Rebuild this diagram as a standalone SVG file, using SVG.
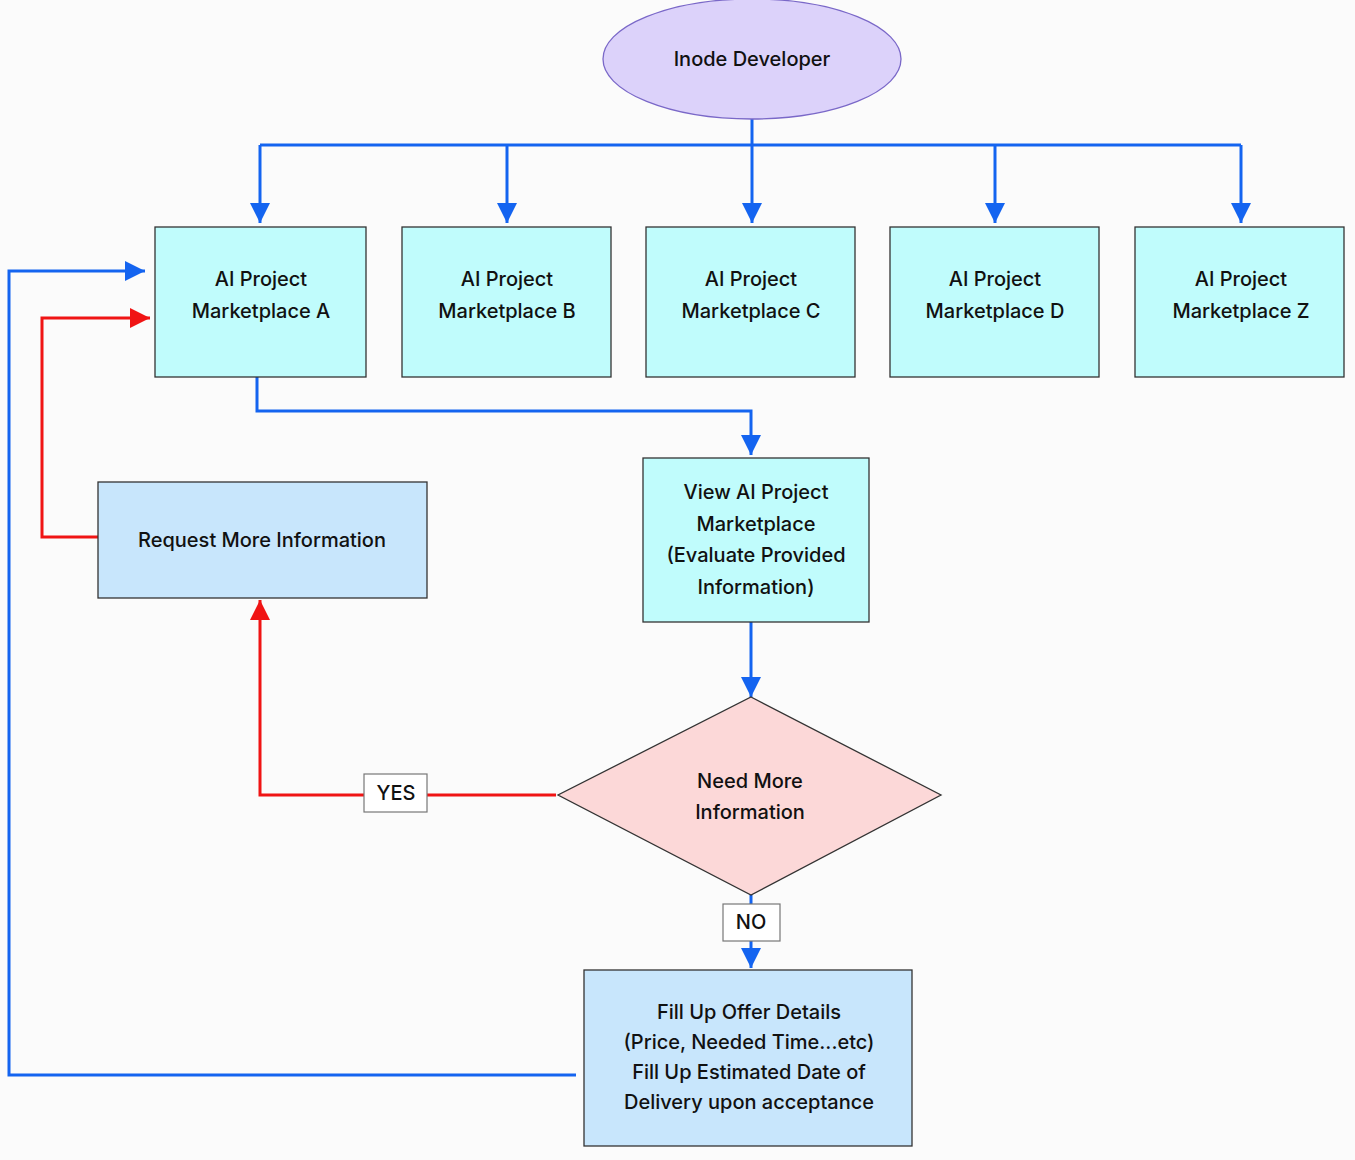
<svg xmlns="http://www.w3.org/2000/svg" width="1355" height="1160" viewBox="0 0 1355 1160">
<style>
  .t { font-family: Inter, "Liberation Sans", Arial, sans-serif; font-size: 20px; font-weight: 500; fill: #111; text-anchor: middle; }
  .box { fill: #c0fcfc; stroke: #333; stroke-width: 1.3; }
  .lbox { fill: #c8e6fc; stroke: #333; stroke-width: 1.3; }
  .tag { fill: #ffffff; stroke: #777; stroke-width: 1.2; }
  .blue { fill: none; stroke: #1464f0; stroke-width: 3; }
  .red { fill: none; stroke: #f01414; stroke-width: 3; }
</style>
<defs>
  <marker id="ab" markerUnits="userSpaceOnUse" markerWidth="20" markerHeight="20" refX="20" refY="10" orient="auto" viewBox="0 0 20 20">
    <polygon points="0,0 20,10 0,20" fill="#1464f0"/>
  </marker>
  <marker id="ar" markerUnits="userSpaceOnUse" markerWidth="20" markerHeight="20" refX="20" refY="10" orient="auto" viewBox="0 0 20 20">
    <polygon points="0,0 20,10 0,20" fill="#f01414"/>
  </marker>
</defs>
<rect width="1355" height="1160" fill="#fbfbfb"/>

<g id="connectors">
  <line class="blue" x1="752" y1="119" x2="752" y2="145"/>
  <line class="blue" x1="260" y1="145" x2="1241" y2="145"/>
  <line class="blue" x1="260" y1="145" x2="260" y2="223" marker-end="url(#ab)"/>
  <line class="blue" x1="507" y1="145" x2="507" y2="223" marker-end="url(#ab)"/>
  <line class="blue" x1="752" y1="145" x2="752" y2="223" marker-end="url(#ab)"/>
  <line class="blue" x1="995" y1="145" x2="995" y2="223" marker-end="url(#ab)"/>
  <line class="blue" x1="1241" y1="145" x2="1241" y2="223" marker-end="url(#ab)"/>
  <polyline class="blue" points="257,377 257,411 751,411 751,455" marker-end="url(#ab)"/>
  <line class="blue" x1="751" y1="622" x2="751" y2="697" marker-end="url(#ab)"/>
  <line class="blue" x1="751" y1="895" x2="751" y2="968" marker-end="url(#ab)"/>
  <polyline class="blue" points="576,1075 9,1075 9,271 145,271" marker-end="url(#ab)"/>
  <polyline class="red" points="556,795 260,795 260,600" marker-end="url(#ar)"/>
  <polyline class="red" points="98,537 42,537 42,318 150,318" marker-end="url(#ar)"/>
</g>

<g id="start">
  <ellipse cx="752" cy="59" rx="149" ry="60" fill="#dcd2fa" stroke="#7a68c8" stroke-width="1.3"/>
  <text class="t" x="752" y="66">Inode Developer</text>
</g>

<g id="mpA">
  <rect class="box" x="155" y="227" width="211" height="150"/>
  <text class="t" x="261" y="286">AI Project</text>
  <text class="t" x="261" y="318">Marketplace A</text>
</g>
<g id="mpB">
  <rect class="box" x="402" y="227" width="209" height="150"/>
  <text class="t" x="507" y="286">AI Project</text>
  <text class="t" x="507" y="318">Marketplace B</text>
</g>
<g id="mpC">
  <rect class="box" x="646" y="227" width="209" height="150"/>
  <text class="t" x="751" y="286">AI Project</text>
  <text class="t" x="751" y="318">Marketplace C</text>
</g>
<g id="mpD">
  <rect class="box" x="890" y="227" width="209" height="150"/>
  <text class="t" x="995" y="286">AI Project</text>
  <text class="t" x="995" y="318">Marketplace D</text>
</g>
<g id="mpZ">
  <rect class="box" x="1135" y="227" width="209" height="150"/>
  <text class="t" x="1241" y="286">AI Project</text>
  <text class="t" x="1241" y="318">Marketplace Z</text>
</g>

<g id="view">
  <rect class="box" x="643" y="458" width="226" height="164"/>
  <text class="t" x="756" y="499">View AI Project</text>
  <text class="t" x="756" y="531">Marketplace</text>
  <text class="t" x="756" y="562">(Evaluate Provided</text>
  <text class="t" x="756" y="594">Information)</text>
</g>

<g id="request">
  <rect class="lbox" x="98" y="482" width="329" height="116"/>
  <text class="t" x="262" y="547">Request More Information</text>
</g>

<g id="decision">
  <polygon points="751,697 941,795 751,895 558,795" fill="#fcd8d8" stroke="#333" stroke-width="1.3"/>
  <text class="t" x="750" y="788">Need More</text>
  <text class="t" x="750" y="819">Information</text>
</g>

<g id="yes">
  <rect class="tag" x="364" y="774" width="63" height="38"/>
  <text class="t" x="396" y="800">YES</text>
</g>
<g id="no">
  <rect class="tag" x="723" y="904" width="57" height="37"/>
  <text class="t" x="751" y="929">NO</text>
</g>

<g id="offer">
  <rect class="lbox" x="584" y="970" width="328" height="176"/>
  <text class="t" x="749" y="1019">Fill Up Offer Details</text>
  <text class="t" x="749" y="1049">(Price, Needed Time...etc)</text>
  <text class="t" x="749" y="1079">Fill Up Estimated Date of</text>
  <text class="t" x="749" y="1109">Delivery upon acceptance</text>
</g>
</svg>
